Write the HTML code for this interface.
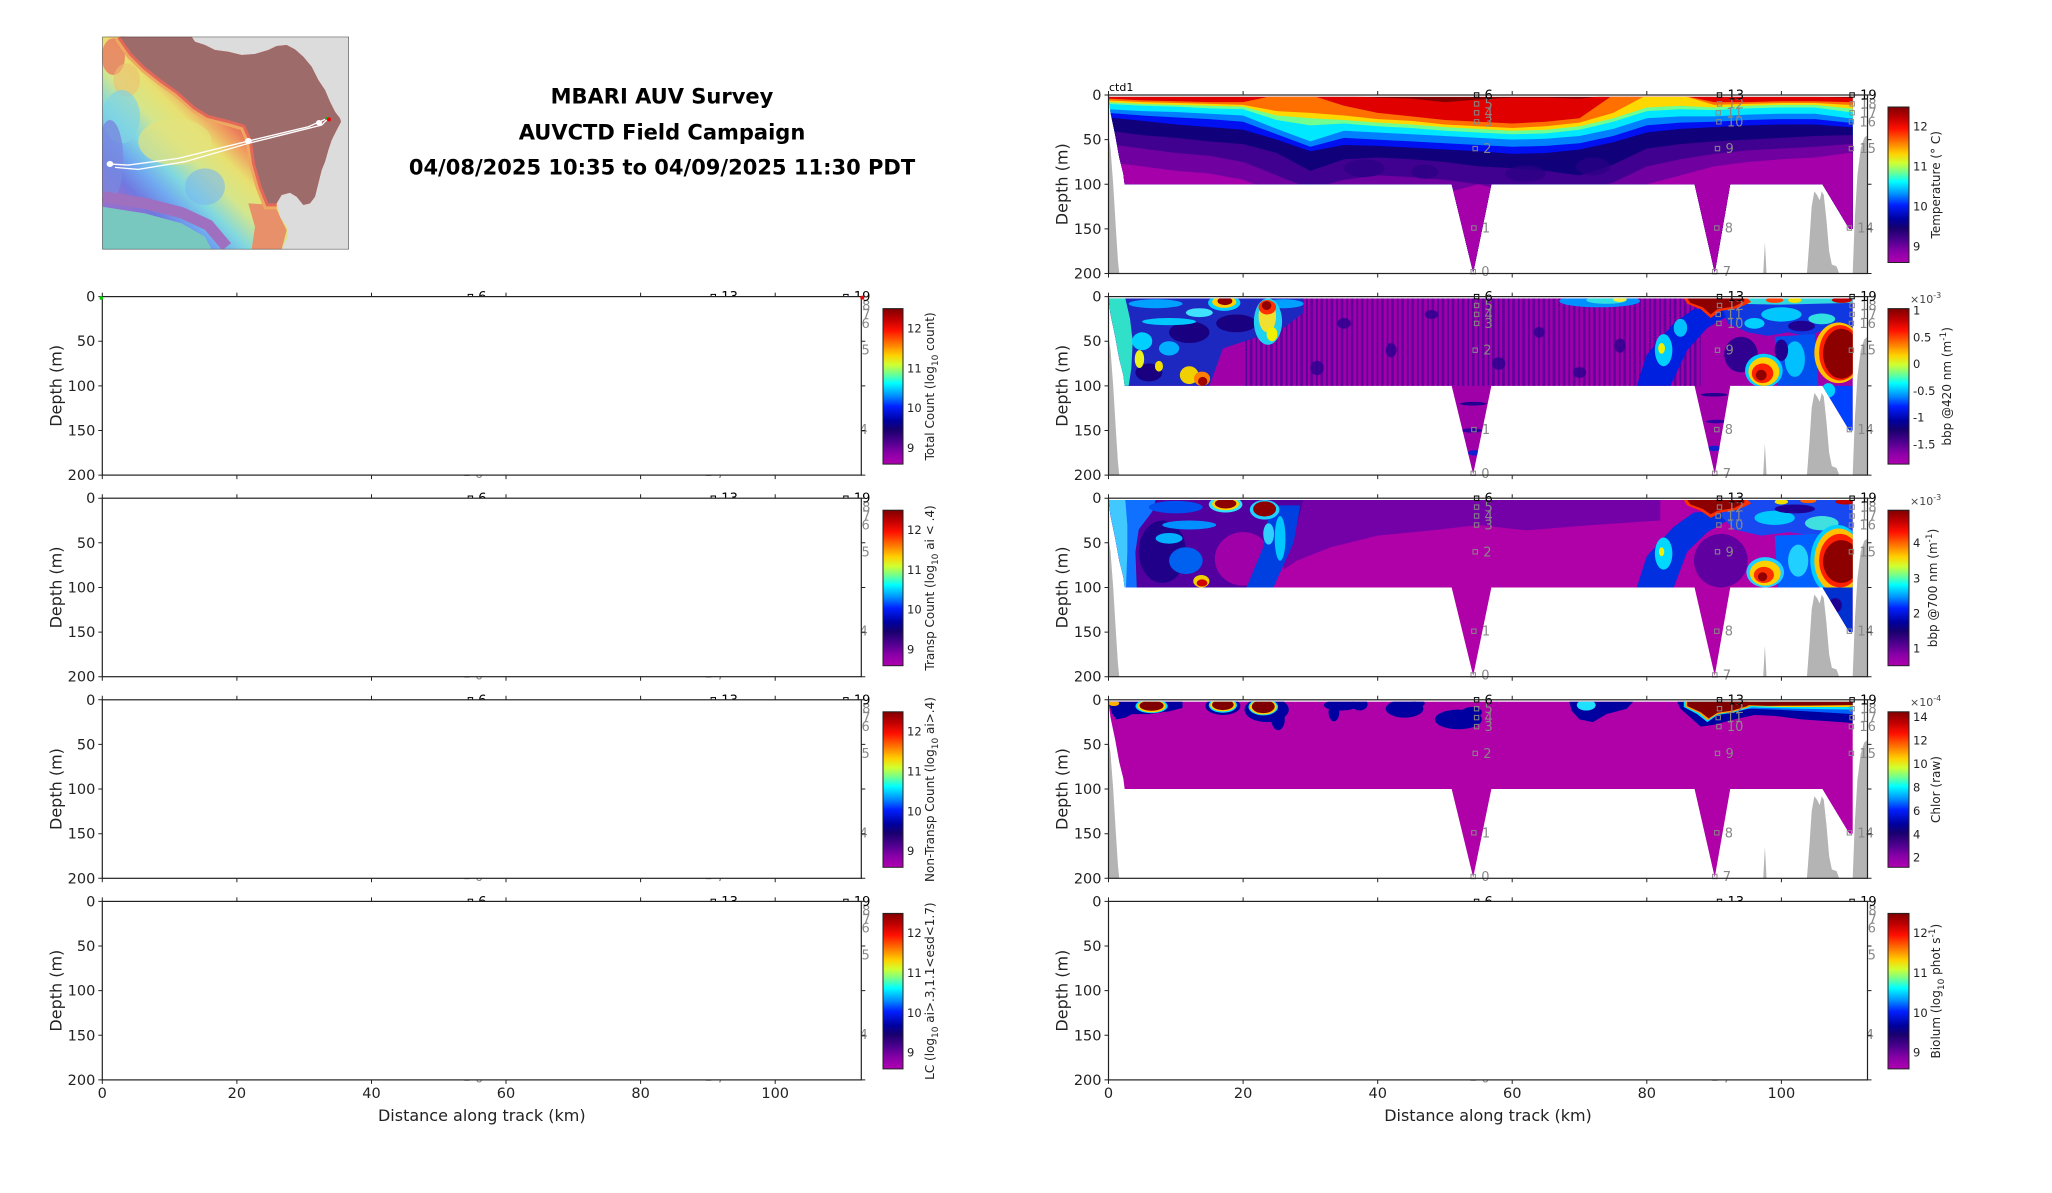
<!DOCTYPE html>
<html><head><meta charset="utf-8"><style>
html,body{margin:0;padding:0;background:#fff;}
body{width:2052px;height:1188px;overflow:hidden;}
svg text{font-family:"DejaVu Sans","Liberation Sans",sans-serif;}
</style></head><body>
<svg width="2052" height="1188" viewBox="0 0 2052 1188" xmlns="http://www.w3.org/2000/svg">
<defs>
<linearGradient id="jet" x1="0" y1="0" x2="0" y2="1">
<stop offset="0" stop-color="#800000"/><stop offset="0.07" stop-color="#c00000"/><stop offset="0.14" stop-color="#ff1000"/><stop offset="0.22" stop-color="#ff7000"/><stop offset="0.30" stop-color="#ffd000"/><stop offset="0.36" stop-color="#d0ff30"/><stop offset="0.42" stop-color="#70ff90"/><stop offset="0.48" stop-color="#00ffff"/><stop offset="0.56" stop-color="#0090ff"/><stop offset="0.63" stop-color="#0020ff"/><stop offset="0.72" stop-color="#0000a0"/><stop offset="0.78" stop-color="#18006e"/><stop offset="0.86" stop-color="#500090"/><stop offset="0.93" stop-color="#8a00a8"/><stop offset="1" stop-color="#b000b0"/>
</linearGradient>
<linearGradient id="mapg" gradientUnits="userSpaceOnUse" x1="330" y1="180" x2="40" y2="470">
<stop offset="0" stop-color="#e86858"/><stop offset="0.12" stop-color="#f0a060"/><stop offset="0.25" stop-color="#e8e070"/><stop offset="0.42" stop-color="#d4e68c"/><stop offset="0.6" stop-color="#80d8e0"/><stop offset="0.75" stop-color="#70a8f0"/><stop offset="0.9" stop-color="#7078e0"/><stop offset="1" stop-color="#9070d0"/>
</linearGradient>
<clipPath id="dr"><path d="M0,2 L0.3,20 L1,45 L1.6,70 L2.2,88 L2.4,100 L51,100 L54.2,199 L56.9,100 L87.1,100 L90.1,199 L92.4,100 L106.1,100 L110.1,150 L110.6,150 L110.6,2 Z"/></clipPath>
<pattern id="str" patternUnits="userSpaceOnUse" width="1.5" height="200"><rect x="0" y="0" width="0.4" height="200" fill="#62009e"/><rect x="0.85" y="0" width="0.25" height="200" fill="#54009a"/></pattern>
<g id="bathy" fill="#b4b4b4">
<polygon points="0,45 0.3,60 0.7,100 1.1,150 1.4,185 1.6,200 0,200"/>
<polygon points="97.3,200 97.55,165 97.8,200"/>
<polygon points="103.8,200 104.2,160 104.5,125 104.9,108 105.3,112 105.7,118 106.0,108 106.3,112 106.7,140 107.1,175 107.5,190 108.2,192 108.6,200"/>
<polygon points="110.6,200 110.9,140 111.3,90 111.8,60 112.3,48 112.8,45 112.8,200"/>
</g>
<g id="axis">
<rect x="0" y="0" width="759" height="178.5" fill="none" stroke="#222" stroke-width="1.2"/>
<path d="M0,0v-4M134.6,0v-4M269.2,0v-4M403.7,0v-4M538.3,0v-4M672.9,0v-4M0,178.5v4M134.6,178.5v4M269.2,178.5v4M403.7,178.5v4M538.3,178.5v4M672.9,178.5v4M0,0h-4M0,44.6h-4M0,89.25h-4M0,133.9h-4M0,178.5h-4M759,0h4M759,44.6h4M759,89.25h4M759,133.9h4M759,178.5h4" stroke="#222" stroke-width="1"/>
<g font-size="14.5" fill="#222" text-anchor="end">
<text x="-7" y="5">0</text><text x="-7" y="49.6">50</text><text x="-7" y="94.3">100</text><text x="-7" y="138.9">150</text><text x="-7" y="183.5">200</text>
</g>
</g>
<g id="stations" font-size="13">
<g fill="none" stroke="#888" stroke-width="1">
<rect x="365.9" y="6.7" width="4.4" height="4.4"/><rect x="365.9" y="15.6" width="4.4" height="4.4"/><rect x="365.9" y="24.6" width="4.4" height="4.4"/><rect x="364.5" y="51.4" width="4.4" height="4.4"/><rect x="363.2" y="130.8" width="4.4" height="4.4"/><rect x="362.5" y="174.5" width="4.4" height="4.4"/>
<rect x="608.8" y="6.7" width="4.4" height="4.4"/><rect x="607.5" y="15.6" width="4.4" height="4.4"/><rect x="608.2" y="24.6" width="4.4" height="4.4"/><rect x="606.8" y="51.4" width="4.4" height="4.4"/><rect x="606.1" y="130.8" width="4.4" height="4.4"/><rect x="604.1" y="174.5" width="4.4" height="4.4"/>
<rect x="741.4" y="6.7" width="4.4" height="4.4"/><rect x="741.4" y="15.6" width="4.4" height="4.4"/><rect x="740.7" y="24.6" width="4.4" height="4.4"/><rect x="740.7" y="51.4" width="4.4" height="4.4"/><rect x="738.7" y="130.8" width="4.4" height="4.4"/>
</g>
<g fill="none" stroke="#000" stroke-width="1">
<rect x="365.9" y="-2.2" width="4.4" height="4.4"/><rect x="608.8" y="-2.2" width="4.4" height="4.4"/><rect x="741.4" y="-2.2" width="4.4" height="4.4"/>
</g>
<g fill="#888">
<text x="376" y="13.4">5</text><text x="376" y="22.4">4</text><text x="376" y="31.3">3</text><text x="374.7" y="58.1">2</text><text x="373.4" y="137.5">1</text><text x="372.7" y="181.2">0</text>
<text x="619" y="13.4">12</text><text x="617.7" y="22.4">11</text><text x="618.4" y="31.3">10</text><text x="617" y="58.1">9</text><text x="616.3" y="137.5">8</text><text x="614.3" y="181.2">7</text>
<text x="751.6" y="13.4">18</text><text x="751.6" y="22.4">17</text><text x="750.9" y="31.3">16</text><text x="750.9" y="58.1">15</text><text x="748.9" y="137.5">14</text>
</g>
<g fill="#000">
<text x="376" y="4.5">6</text><text x="619" y="4.5">13</text><text x="751.6" y="4.5">19</text>
</g>
</g>
</defs>

<!-- MAP -->
<svg x="102.3" y="36.7" width="246.7" height="212.7" viewBox="22 20 740 638" preserveAspectRatio="none">
<rect x="22" y="20" width="740" height="638" fill="#dcdcdc"/>
<polygon fill="url(#mapg)" points="22,20 290,20 300,35 330,45 360,60 400,65 440,75 480,72 520,60 545,48 575,45 600,58 625,80 650,110 670,150 690,180 705,215 720,245 735,265 738,275 725,300 710,330 700,360 690,395 680,420 670,460 660,500 645,520 625,525 605,500 585,488 560,495 545,520 555,560 575,590 578,620 565,650 555,658 22,658"/>
<ellipse cx="240" cy="335" rx="110" ry="70" fill="#e4e27c" opacity="0.7"/>
<ellipse cx="55" cy="80" rx="35" ry="55" fill="#e87a62" opacity="0.8"/>
<ellipse cx="95" cy="150" rx="40" ry="50" fill="#eec070" opacity="0.6"/>
<ellipse cx="80" cy="260" rx="55" ry="80" fill="#80d4e4" opacity="0.7"/>
<ellipse cx="45" cy="390" rx="40" ry="120" fill="#7888e0" opacity="0.8"/>
<ellipse cx="330" cy="470" rx="60" ry="55" fill="#7ab8f0" opacity="0.6"/>
<polygon fill="#78c8c0" points="22,530 150,550 260,580 330,620 350,658 22,658"/>
<path d="M22,500 L150,520 L260,548 L340,585 L395,650" fill="none" stroke="#a070c0" stroke-width="34"/>
<polygon fill="#e8906a" points="460,520 540,525 555,560 575,600 560,658 470,658 480,590"/>
<path d="M75,20 L110,70 L150,110 L200,150 L250,185 L300,230 L340,255 L400,270 L450,285 L470,330 L480,400 L500,470 L520,520 L545,520" fill="none" stroke="#eea860" stroke-width="36"/>
<path d="M75,20 L110,70 L150,110 L200,150 L250,185 L300,230 L340,255 L400,270 L450,285 L470,330 L480,400 L500,470 L520,520 L545,520" fill="none" stroke="#e4685a" stroke-width="18"/>
<polygon fill="#9e6b6b" points="75,20 290,20 300,35 330,45 360,60 400,65 440,75 480,72 520,60 545,48 575,45 600,58 625,80 650,110 670,150 690,180 705,215 720,245 735,265 738,275 725,300 710,330 700,360 690,395 680,420 670,460 660,500 645,520 625,525 605,500 585,488 560,495 545,520 520,520 500,470 480,400 470,330 450,285 400,270 340,255 300,230 250,185 200,150 150,110 110,70"/>
<polyline points="45,402 100,405 250,385 460,333 640,290 690,268" fill="none" stroke="#fff" stroke-width="4"/>
<polyline points="60,412 130,418 270,395 460,340 560,315 680,285 695,270" fill="none" stroke="#fff" stroke-width="4"/>
<ellipse cx="45" cy="402" rx="10" ry="9" fill="#fff"/>
<ellipse cx="460" cy="333" rx="10" ry="9" fill="#fff"/>
<ellipse cx="672" cy="278" rx="9" ry="8" fill="#fff"/>
<circle cx="702" cy="268" r="6" fill="#f00000"/>
<circle cx="694" cy="264" r="3" fill="#00c000"/>
<rect x="22" y="20" width="740" height="638" fill="none" stroke="#333" stroke-width="3"/>
</svg>

<!-- TITLE -->
<g font-size="21" font-weight="bold" text-anchor="middle" fill="#000">
<text x="662" y="103.5">MBARI AUV Survey</text>
<text x="662" y="139.5">AUVCTD Field Campaign</text>
<text x="662" y="174.5">04/08/2025 10:35 to 04/09/2025 11:30 PDT</text>
</g>

<!-- LEFT PANELS (empty, masked) -->
<g transform="translate(102.3,296.6)"><use href="#stations"/><rect x="0" y="0" width="759" height="178.5" fill="#fff"/><use href="#axis"/><circle cx="-1" cy="1.5" r="1.8" fill="#00d000"/><circle cx="760" cy="1" r="2" fill="#f00000"/></g>
<g transform="translate(102.3,498.2)"><use href="#stations"/><rect x="0" y="0" width="759" height="178.5" fill="#fff"/><use href="#axis"/></g>
<g transform="translate(102.3,699.8)"><use href="#stations"/><rect x="0" y="0" width="759" height="178.5" fill="#fff"/><use href="#axis"/></g>
<g transform="translate(102.3,901.4)"><use href="#stations"/><rect x="0" y="0" width="759" height="178.5" fill="#fff"/><use href="#axis"/></g>
<g transform="translate(1108.5,901.4)"><use href="#stations"/><rect x="0" y="0" width="759" height="178.5" fill="#fff"/><use href="#axis"/></g>

<!-- RIGHT ROW 1: TEMPERATURE -->
<svg x="1108.5" y="95" width="759" height="178.5" viewBox="0 0 112.8 200" preserveAspectRatio="none">
<g clip-path="url(#dr)">
<rect x="0" y="0" width="113" height="200" fill="#800000"/>
<polygon fill="#e00000" points="0,1 5,1 10,1 15,1.5 20,1 25,0 30,0 35,1 40,3 45,4 50,8 55,5 60,3 65,3 70,4 75,0 80,0 85,0 90,2 95,2 100,2 105,2 110,3 113,3 113,200 0,200"/>
<polygon fill="#ff7000" points="0,4 5,6 10,7 15,8 20,8 25,0 30,0 35,12 40,20 45,24 50,28 55,30 60,32 65,30 70,26 75,0 80,0 85,0 90,8 95,8 100,7 105,7 110,8 113,8 113,200 0,200"/>
<polygon fill="#ffd800" points="0,6 5,8 10,9 15,10 20,11 25,18 30,20 35,23 40,27 45,29 50,33 55,35 60,37 65,35 70,31 75,20 80,0 85,0 90,11 95,10 100,9 105,9 110,11 113,11 113,200 0,200"/>
<polygon fill="#70ff90" points="0,8 5,10 10,11 15,12 20,13 25,23 30,26 35,28 40,31 45,33 50,36 55,38 60,40 65,39 70,35 75,26 80,14 85,12 90,14 95,12 100,11 105,11 110,15 113,15 113,200 0,200"/>
<polygon fill="#00e8ff" points="0,10 5,12 10,13 15,15 20,16 25,28 30,34 35,32 40,35 45,37 50,40 55,42 60,44 65,43 70,39 75,30 80,18 85,16 90,17 95,15 100,14 105,14 110,19 113,19 113,200 0,200"/>
<polygon fill="#0080ff" points="0,16 5,18 10,19 15,21 20,23 25,38 30,52 35,40 40,42 45,44 50,46 55,48 60,50 65,49 70,46 75,38 80,26 85,24 90,24 95,22 100,21 105,21 110,26 113,26 113,200 0,200"/>
<polygon fill="#0010f0" points="0,20 5,23 10,25 15,27 20,30 25,44 30,58 35,48 40,50 45,52 50,54 55,56 60,58 65,57 70,54 75,46 80,34 85,31 90,30 95,28 100,27 105,27 110,31 113,31 113,200 0,200"/>
<polygon fill="#10007a" points="0,25 5,29 10,33 15,36 20,39 25,50 30,63 35,56 40,57 45,59 50,61 55,63 60,66 65,65 70,61 75,53 80,42 85,38 90,36 95,34 100,33 105,33 110,36 113,36 113,200 0,200"/>
<polygon fill="#400090" points="0,40 5,45 10,48 15,52 20,55 25,65 30,85 35,72 40,70 45,72 50,75 55,80 60,82 65,85 70,90 75,78 80,60 85,55 90,52 95,50 100,48 105,46 110,45 113,45 113,200 0,200"/>
<polygon fill="#7000a0" points="0,55 5,60 10,65 15,68 20,75 25,90 30,105 35,95 40,90 45,92 50,95 55,100 60,100 65,110 70,110 75,98 80,80 85,72 90,66 95,62 100,60 105,58 110,55 113,55 113,200 0,200"/>
<polygon fill="#a600aa" points="0,75 5,80 10,85 15,88 20,95 25,110 30,110 35,110 40,110 45,110 50,110 55,100 60,110 65,110 70,110 75,110 80,100 85,90 90,80 95,75 100,72 105,70 110,65 113,65 113,200 0,200"/>
<g fill="#2a0084" opacity="0.7">
<ellipse cx="38" cy="82" rx="3" ry="10"/><ellipse cx="47" cy="86" rx="2" ry="8"/><ellipse cx="62" cy="88" rx="3" ry="9"/><ellipse cx="72" cy="80" rx="2.5" ry="10"/>
</g>
</g>
<use href="#bathy"/>
</svg>
<g transform="translate(1108.5,95)"><use href="#stations"/><use href="#axis"/></g>
<text x="1109" y="91" font-size="11" fill="#000">ctd1</text>

<!-- RIGHT ROW 2: bbp420 -->
<svg x="1108.5" y="296.6" width="759" height="178.5" viewBox="0 0 112.8 200" preserveAspectRatio="none">
<g clip-path="url(#dr)">
<rect x="0" y="0" width="113" height="200" fill="#a000a8"/>
<rect x="20" y="0" width="68" height="100" fill="url(#str)"/>
<g fill="#2a0090" opacity="0.8">
<ellipse cx="35" cy="30" rx="1" ry="6"/><ellipse cx="42" cy="60" rx="0.8" ry="8"/><ellipse cx="48" cy="20" rx="1" ry="5"/><ellipse cx="58" cy="75" rx="1" ry="7"/><ellipse cx="64" cy="40" rx="0.8" ry="6"/><ellipse cx="70" cy="85" rx="1" ry="6"/><ellipse cx="76" cy="55" rx="0.8" ry="8"/><ellipse cx="31" cy="80" rx="1" ry="8"/>
</g>
<polygon fill="#1c28c0" points="0,0 29,0 29,18 26,35 21,48 17,58 15,100 0,100"/>
<ellipse cx="12" cy="40" rx="3" ry="12" fill="#180080"/>
<ellipse cx="19" cy="30" rx="3" ry="10" fill="#180080"/>
<ellipse cx="6" cy="85" rx="2" ry="10" fill="#180080"/>
<polygon fill="#30e0c8" points="0,2 2.5,2 3.2,25 3.6,50 3.4,80 3,100 2.4,100 1.6,70 1,45 0.3,20"/>
<ellipse cx="7" cy="8" rx="4" ry="5" fill="#00a0ff"/>
<ellipse cx="9" cy="28" rx="4" ry="4" fill="#00c8ff"/>
<ellipse cx="5" cy="50" rx="1.5" ry="10" fill="#00d0ff"/>
<ellipse cx="9" cy="58" rx="1.5" ry="8" fill="#00b0ff"/>
<ellipse cx="13.5" cy="18" rx="2" ry="5" fill="#40e0ff"/>
<ellipse cx="26" cy="8" rx="3" ry="5" fill="#00a0ff"/>
<ellipse cx="4.6" cy="70" rx="0.7" ry="10" fill="#e8f020"/>
<ellipse cx="7.5" cy="78" rx="0.6" ry="6" fill="#f0e000"/>
<ellipse cx="12" cy="88" rx="1.4" ry="10" fill="#f0d000"/>
<ellipse cx="13.9" cy="92" rx="1.2" ry="8" fill="#ff8000"/>
<ellipse cx="14" cy="95" rx="0.7" ry="5" fill="#a00000"/>
<ellipse cx="17.2" cy="7" rx="2.4" ry="9" fill="#00d0ff"/>
<ellipse cx="17.2" cy="6" rx="1.8" ry="6.5" fill="#ffd000"/>
<ellipse cx="17.3" cy="5" rx="1.1" ry="4.5" fill="#900000"/>
<ellipse cx="23.7" cy="28" rx="2.1" ry="26" fill="#20d0f0"/>
<ellipse cx="23.6" cy="22" rx="1.3" ry="18" fill="#f0e030"/>
<ellipse cx="23.6" cy="12" rx="1.3" ry="8" fill="#ff3000"/>
<ellipse cx="23.5" cy="10" rx="0.7" ry="5" fill="#900000"/>
<ellipse cx="24.3" cy="42" rx="0.8" ry="8" fill="#f0f000"/>
<ellipse cx="73" cy="5" rx="6" ry="7" fill="#0090ff"/>
<ellipse cx="74" cy="4" rx="3" ry="4" fill="#30e0e0"/>
<ellipse cx="76" cy="3" rx="1" ry="3" fill="#f0f040"/>
<polygon fill="#0020e0" points="78.5,100 83.5,100 86,60 89,35 92,22 91,12 87,14 84,30 80,65"/>
<ellipse cx="82.5" cy="60" rx="1.3" ry="18" fill="#00d0ff"/>
<ellipse cx="82.2" cy="58" rx="0.5" ry="6" fill="#f0f000"/>
<ellipse cx="85" cy="35" rx="1" ry="10" fill="#00c0ff"/>
<polygon fill="#1038e0" points="91,5 110.6,5 110.6,40 106,38 104,45 101,40 98,44 95,40 92,30"/>
<ellipse cx="100" cy="20" rx="3" ry="8" fill="#00c8ff"/>
<ellipse cx="106" cy="25" rx="2" ry="6" fill="#30e0e0"/>
<ellipse cx="96" cy="30" rx="1.5" ry="6" fill="#00d0ff"/>
<ellipse cx="103" cy="33" rx="2" ry="6" fill="#200090"/>
<polygon fill="#30d8e0" points="92,2 110.6,2 110.6,7 100,9 93,8"/>
<ellipse cx="99" cy="4" rx="1.3" ry="3" fill="#ff4000"/>
<ellipse cx="102" cy="4" rx="1" ry="3" fill="#f0e000"/>
<ellipse cx="109" cy="4" rx="1.5" ry="3" fill="#c00000"/>
<polygon fill="#ff3000" points="85.5,2 95,2 95.5,6 93.5,13 91,16 89.5,24 88,14 86,8"/>
<polygon fill="#8c0000" points="86,2 94.5,2 94.5,5 93,11 90.5,14 89.5,20 88.3,12 86.5,7"/>
<ellipse cx="94" cy="65" rx="2.5" ry="20" fill="#300090"/>
<polygon fill="#0050f0" points="99,45 105,42 105.5,100 99.5,100"/>
<ellipse cx="102" cy="70" rx="1.5" ry="20" fill="#00c0ff"/>
<ellipse cx="100" cy="60" rx="1" ry="12" fill="#200090"/>
<ellipse cx="97.4" cy="83" rx="2.8" ry="19" fill="#00d0ff"/>
<ellipse cx="97.4" cy="84" rx="2.3" ry="16" fill="#ffd000"/>
<ellipse cx="97.2" cy="86" rx="1.6" ry="11" fill="#ff2000"/>
<ellipse cx="97" cy="88" rx="0.8" ry="6" fill="#900000"/>
<ellipse cx="108.5" cy="63" rx="3.6" ry="34" fill="#ffc000"/>
<ellipse cx="108.7" cy="63" rx="3.1" ry="31" fill="#ff2000"/>
<ellipse cx="108.9" cy="64" rx="2.7" ry="28" fill="#8c0000"/>
<polygon fill="#0040ff" points="105.5,100 110.6,100 110.6,150 109.8,150"/>
<ellipse cx="107" cy="105" rx="1" ry="8" fill="#00d0ff"/>
<ellipse cx="54.2" cy="120" rx="2" ry="2" fill="#200090"/>
<ellipse cx="54" cy="150" rx="1.5" ry="2.5" fill="#3000a0"/>
<ellipse cx="54.4" cy="175" rx="1" ry="3" fill="#1020d0"/>
<ellipse cx="90" cy="110" rx="2" ry="2" fill="#200090"/>
<ellipse cx="90.3" cy="140" rx="1.5" ry="2" fill="#3000a0"/>
<ellipse cx="90" cy="170" rx="1" ry="3" fill="#1020d0"/>
</g>
<use href="#bathy"/>
</svg>
<g transform="translate(1108.5,296.6)"><use href="#stations"/><use href="#axis"/></g>

<!-- RIGHT ROW 3: bbp700 -->
<svg x="1108.5" y="498.2" width="759" height="178.5" viewBox="0 0 112.8 200" preserveAspectRatio="none">
<g clip-path="url(#dr)">
<rect x="0" y="0" width="113" height="200" fill="#b000a8"/>
<polygon fill="#7400a8" points="26,0 82,0 82,25 72,30 62,36 55,30 48,36 40,42 33,55 28,70 26,80"/>
<polygon fill="#5200a0" points="0,0 29,0 28,30 26,55 24,80 22,100 0,100"/>
<polygon fill="#1070ff" points="0,2 7,2 6.5,15 4.5,35 4,60 4.2,100 2.4,100 1.6,70 1,45 0.3,20"/>
<polygon fill="#40c8ff" points="0,2 2.5,2 2.8,30 2.8,60 2.6,100 2.4,100 1.6,70 1,45 0.3,20"/>
<ellipse cx="8" cy="60" rx="3.5" ry="35" fill="#200088"/>
<ellipse cx="10" cy="10" rx="4" ry="7" fill="#0050f0"/>
<ellipse cx="12" cy="30" rx="4" ry="5" fill="#0090ff"/>
<ellipse cx="11.5" cy="70" rx="2.5" ry="15" fill="#0060f0"/>
<ellipse cx="9" cy="45" rx="2" ry="6" fill="#00b0ff"/>
<ellipse cx="20" cy="68" rx="4.2" ry="30" fill="#a000a8"/>
<polygon fill="#0040e0" points="24,8 28.5,8 27.5,50 24.5,100 20.5,100 23,55"/>
<ellipse cx="25.5" cy="45" rx="0.8" ry="25" fill="#00c8ff"/>
<ellipse cx="17.4" cy="7" rx="2.5" ry="9" fill="#30e0ff"/>
<ellipse cx="17.4" cy="6.5" rx="2" ry="7" fill="#ffd000"/>
<ellipse cx="17.4" cy="6" rx="1.6" ry="5.5" fill="#8c0000"/>
<ellipse cx="23.2" cy="13" rx="2.2" ry="11" fill="#20d0ff"/>
<ellipse cx="23.2" cy="12" rx="1.7" ry="8.5" fill="#8c0000"/>
<ellipse cx="23.8" cy="40" rx="0.8" ry="12" fill="#30d0ff"/>
<ellipse cx="13.8" cy="93" rx="1.2" ry="7" fill="#f0d000"/>
<ellipse cx="13.9" cy="95" rx="0.8" ry="4" fill="#d00000"/>
<polygon fill="#0030e0" points="78.5,100 84,100 86,60 89,38 92,25 91,14 87,16 84,32 80,65"/>
<ellipse cx="82.5" cy="62" rx="1.3" ry="18" fill="#00d8ff"/>
<ellipse cx="82.2" cy="60" rx="0.4" ry="5" fill="#f0f000"/>
<ellipse cx="91" cy="70" rx="4" ry="30" fill="#6000a0"/>
<polygon fill="#1848f0" points="92,2 110.6,2 110.6,40 105,42 101,38 97,42 93,35 91,20"/>
<ellipse cx="99" cy="22" rx="3" ry="8" fill="#00c8ff"/>
<ellipse cx="106" cy="28" rx="2.5" ry="8" fill="#40e0e0"/>
<ellipse cx="102" cy="12" rx="3" ry="5" fill="#200090"/>
<ellipse cx="100" cy="4" rx="1" ry="3" fill="#f0e000"/>
<ellipse cx="104" cy="3" rx="1.2" ry="2.5" fill="#ff6000"/>
<ellipse cx="109.5" cy="4" rx="1.5" ry="3" fill="#c00000"/>
<polygon fill="#ff3000" points="85.5,2 95,2 95.5,6 93.5,13 91,16 89.5,22 88,14 86,8"/>
<polygon fill="#8c0000" points="86,2 94.5,2 94.5,5 93,11 90.5,14 89.5,18 88.3,12 86.5,7"/>
<polygon fill="#0060ff" points="99,42 105.5,40 105.5,100 99.5,100"/>
<ellipse cx="102.5" cy="70" rx="1.5" ry="18" fill="#20d0ff"/>
<ellipse cx="97.6" cy="83" rx="2.8" ry="17" fill="#20d0ff"/>
<ellipse cx="97.6" cy="84" rx="2.3" ry="14" fill="#ffd000"/>
<ellipse cx="97.4" cy="86" rx="1.5" ry="9" fill="#ff3000"/>
<ellipse cx="97.2" cy="88" rx="0.7" ry="5" fill="#900000"/>
<ellipse cx="108.3" cy="70" rx="4" ry="40" fill="#00d0ff"/>
<ellipse cx="108.5" cy="70" rx="3.6" ry="36" fill="#ffc000"/>
<ellipse cx="108.7" cy="70" rx="3.1" ry="30" fill="#ff2000"/>
<ellipse cx="108.9" cy="71" rx="2.7" ry="24" fill="#8c0000"/>
<polygon fill="#0030d0" points="105.5,100 110.6,100 110.6,150 109.8,150"/>
<ellipse cx="108" cy="120" rx="1" ry="8" fill="#200090"/>
</g>
<use href="#bathy"/>
</svg>
<g transform="translate(1108.5,498.2)"><use href="#stations"/><use href="#axis"/></g>

<!-- RIGHT ROW 4: Chlor -->
<svg x="1108.5" y="699.8" width="759" height="178.5" viewBox="0 0 112.8 200" preserveAspectRatio="none">
<g clip-path="url(#dr)">
<rect x="0" y="0" width="113" height="200" fill="#b000a8"/>
<g fill="#0000a0">
<polygon points="0,2 3,2 11,2 11,9 9,13 6,16 3.5,16 2.5,20 1.2,22 0.5,15"/>
<ellipse cx="17" cy="7" rx="2.6" ry="10"/>
<ellipse cx="23.5" cy="11" rx="3.3" ry="14"/>
<ellipse cx="25.2" cy="22" rx="1" ry="12"/>
<ellipse cx="34.5" cy="6" rx="2.5" ry="6"/>
<ellipse cx="37.3" cy="5" rx="1.2" ry="7"/>
<ellipse cx="33.5" cy="14" rx="0.8" ry="10"/>
<ellipse cx="44" cy="10" rx="2.8" ry="10"/>
<ellipse cx="46" cy="4" rx="1" ry="4"/>
<ellipse cx="52" cy="22" rx="3.5" ry="11"/>
<ellipse cx="54" cy="14" rx="1.5" ry="6"/>
<polygon points="68.5,2 78,2 77,10 74,16 72,25 70,22 68.8,12"/>
<polygon points="84.5,2 110.6,2 110.6,26 107,24 103,22 99,18 96,17 93,22 90,28 88,30 86.5,20 85,10"/>
</g>
<polygon fill="#0060ff" points="94,2 110.6,2 110.6,16 104,13 99,11 95,10"/>
<ellipse cx="71" cy="6" rx="1.4" ry="6" fill="#20e0ff"/>
<ellipse cx="6.4" cy="7" rx="2.4" ry="8" fill="#00e0ff"/>
<ellipse cx="17" cy="6" rx="2.1" ry="8.5" fill="#00e0ff"/>
<ellipse cx="23" cy="8" rx="2.2" ry="9.5" fill="#00e0ff"/>
<polygon fill="#00e0ff" points="94,2 110.6,2 110.6,11 103,10 97,9 94,8"/>
<polygon fill="#00e0ff" points="85.5,2 95.5,2 95.5,9 93,14 90.5,17 89,25 87.5,16 85.5,8"/>
<ellipse cx="6.4" cy="7" rx="2.1" ry="7" fill="#ffd000"/>
<ellipse cx="17" cy="5.8" rx="1.9" ry="7.2" fill="#ffd000"/>
<ellipse cx="23" cy="8" rx="2" ry="8.5" fill="#ffd000"/>
<polygon fill="#ffd000" points="94,2 110.6,2 110.6,8 100,8 95,7"/>
<polygon fill="#ffa000" points="85.8,2 95.2,2 95.2,8 93,13 90.5,16 89,23 87.8,15 85.8,8"/>
<g fill="#800000">
<ellipse cx="6.4" cy="6.5" rx="1.8" ry="5.8"/>
<ellipse cx="17" cy="5.5" rx="1.6" ry="6"/>
<ellipse cx="23" cy="7.5" rx="1.7" ry="7.5"/>
<polygon points="93,2 110.6,2 110.6,6 104,6.5 98,6.8 94,6"/>
<polygon points="86,2 95,2 95,7 92.8,12 90.5,14.5 89.2,21 88,14 86,7"/>
</g>
<ellipse cx="0.8" cy="4" rx="0.8" ry="3" fill="#ffb000"/>
</g>
<use href="#bathy"/>
</svg>
<g transform="translate(1108.5,699.8)"><use href="#stations"/><use href="#axis"/></g>

<!-- Y LABELS -->
<g font-size="16" fill="#222" text-anchor="middle">
<text transform="translate(61.5,385.85) rotate(-90)">Depth (m)</text>
<text transform="translate(61.5,587.45) rotate(-90)">Depth (m)</text>
<text transform="translate(61.5,789.05) rotate(-90)">Depth (m)</text>
<text transform="translate(61.5,990.65) rotate(-90)">Depth (m)</text>
<text transform="translate(1067.5,184.25) rotate(-90)">Depth (m)</text>
<text transform="translate(1067.5,385.85) rotate(-90)">Depth (m)</text>
<text transform="translate(1067.5,587.45) rotate(-90)">Depth (m)</text>
<text transform="translate(1067.5,789.05) rotate(-90)">Depth (m)</text>
<text transform="translate(1067.5,990.65) rotate(-90)">Depth (m)</text>
</g>

<!-- X TICK LABELS -->
<g font-size="14.5" fill="#222" text-anchor="middle">
<text x="102.3" y="1098">0</text><text x="236.9" y="1098">20</text><text x="371.5" y="1098">40</text><text x="506" y="1098">60</text><text x="640.6" y="1098">80</text><text x="775.2" y="1098">100</text>
<text x="1108.5" y="1098">0</text><text x="1243.1" y="1098">20</text><text x="1377.7" y="1098">40</text><text x="1512.2" y="1098">60</text><text x="1646.8" y="1098">80</text><text x="1781.4" y="1098">100</text>
</g>
<g font-size="16" fill="#222" text-anchor="middle">
<text x="481.8" y="1121">Distance along track (km)</text>
<text x="1488" y="1121">Distance along track (km)</text>
</g>

<!-- COLORBARS -->
<g stroke="#222" stroke-width="1" fill="url(#jet)">
<rect x="883" y="308.6" width="20" height="155.5"/>
<rect x="883" y="510.2" width="20" height="155.5"/>
<rect x="883" y="711.8" width="20" height="155.5"/>
<rect x="883" y="913.4" width="20" height="155.5"/>
<rect x="1888" y="107" width="21" height="155.5"/>
<rect x="1888" y="308.6" width="21" height="155.5"/>
<rect x="1888" y="510.2" width="21" height="155.5"/>
<rect x="1888" y="711.8" width="21" height="155.5"/>
<rect x="1888" y="913.4" width="21" height="155.5"/>
</g>
<g font-size="11.5" fill="#222">
<text x="907" y="332.3">12</text><text x="907" y="372.3">11</text><text x="907" y="412.1">10</text><text x="907" y="451.9">9</text>
<text x="907" y="533.9">12</text><text x="907" y="573.9">11</text><text x="907" y="613.7">10</text><text x="907" y="653.5">9</text>
<text x="907" y="735.5">12</text><text x="907" y="775.5">11</text><text x="907" y="815.3">10</text><text x="907" y="855.1">9</text>
<text x="907" y="937.1">12</text><text x="907" y="977.1">11</text><text x="907" y="1016.9">10</text><text x="907" y="1056.7">9</text>
<text x="1913" y="130.7">12</text><text x="1913" y="170.7">11</text><text x="1913" y="210.5">10</text><text x="1913" y="250.3">9</text>
<text x="1913" y="314.6">1</text><text x="1913" y="341.4">0.5</text><text x="1913" y="368.1">0</text><text x="1913" y="394.9">-0.5</text><text x="1913" y="421.6">-1</text><text x="1913" y="448.3">-1.5</text>
<text x="1913" y="547.2">4</text><text x="1913" y="582.3">3</text><text x="1913" y="617.3">2</text><text x="1913" y="652.4">1</text>
<text x="1913" y="721.2">14</text><text x="1913" y="744.6">12</text><text x="1913" y="768">10</text><text x="1913" y="791.5">8</text><text x="1913" y="814.9">6</text><text x="1913" y="838.3">4</text><text x="1913" y="861.7">2</text>
<text x="1913" y="937.1">12</text><text x="1913" y="977.1">11</text><text x="1913" y="1016.9">10</text><text x="1913" y="1056.7">9</text>
</g>
<g font-size="11" fill="#444">
<text x="1910" y="303">×10<tspan dy="-5" font-size="8">-3</tspan></text>
<text x="1910" y="505">×10<tspan dy="-5" font-size="8">-3</tspan></text>
<text x="1910" y="706">×10<tspan dy="-5" font-size="8">-4</tspan></text>
</g>
<g font-size="12" fill="#222" text-anchor="middle">
<text transform="translate(934,386.35) rotate(-90)">Total Count (log<tspan font-size="9" dy="4">10</tspan><tspan dy="-4"> count)</tspan></text>
<text transform="translate(934,587.95) rotate(-90)">Transp Count (log<tspan font-size="9" dy="4">10</tspan><tspan dy="-4"> ai &lt; .4)</tspan></text>
<text transform="translate(934,789.55) rotate(-90)">Non-Transp Count (log<tspan font-size="9" dy="4">10</tspan><tspan dy="-4"> ai&gt;.4)</tspan></text>
<text transform="translate(934,991.15) rotate(-90)">LC (log<tspan font-size="9" dy="4">10</tspan><tspan dy="-4"> ai&gt;.3,1.1&lt;esd&lt;1.7)</tspan></text>
<text transform="translate(1940,184.75) rotate(-90)">Temperature (° C)</text>
<text transform="translate(1951,386.35) rotate(-90)">bbp @420 nm (m<tspan font-size="9" dy="-5">-1</tspan><tspan dy="5">)</tspan></text>
<text transform="translate(1937,587.95) rotate(-90)">bbp @700 nm (m<tspan font-size="9" dy="-5">-1</tspan><tspan dy="5">)</tspan></text>
<text transform="translate(1940,789.55) rotate(-90)">Chlor (raw)</text>
<text transform="translate(1940,991.15) rotate(-90)">Biolum (log<tspan font-size="9" dy="4">10</tspan><tspan dy="-4"> phot s</tspan><tspan font-size="9" dy="-5">-1</tspan><tspan dy="5">)</tspan></text>
</g>
</svg>
</body></html>
